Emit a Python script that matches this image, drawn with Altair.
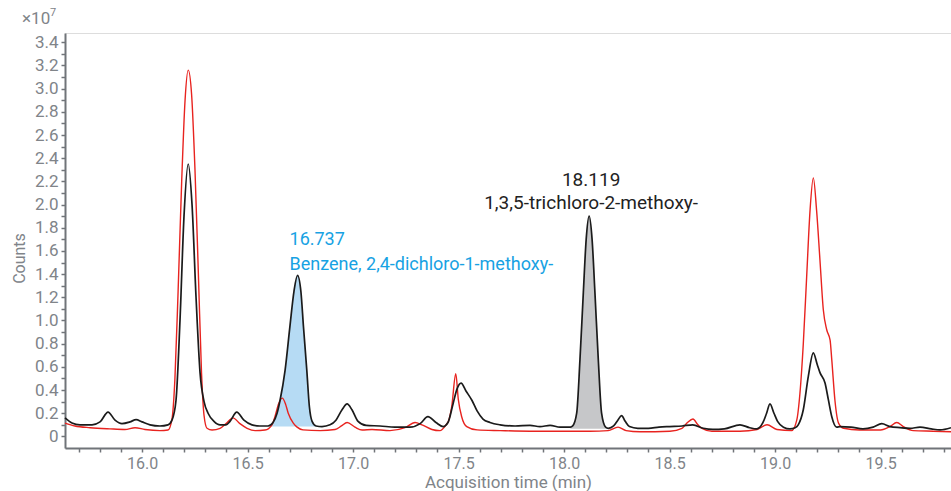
import altair as alt
import pandas as pd

# Total ion chromatograms (counts in units of 1e7)
black_time = [
    15.635, 15.668, 15.706, 15.763, 15.801, 15.839, 15.872, 15.905, 15.943, 15.972,
    16.000, 16.038, 16.085, 16.123, 16.142, 16.161, 16.180, 16.199, 16.219, 16.237,
    16.256, 16.275, 16.294, 16.313, 16.341, 16.370, 16.398, 16.417, 16.449, 16.483,
    16.521, 16.559, 16.597, 16.621, 16.640, 16.654, 16.678, 16.701, 16.720, 16.737,
    16.753, 16.765, 16.781, 16.793, 16.806, 16.825, 16.853, 16.891, 16.919, 16.948,
    16.972, 16.995, 17.024, 17.062, 17.128, 17.199, 17.270, 17.318, 17.355, 17.393,
    17.427, 17.450, 17.474, 17.493, 17.512, 17.536, 17.564, 17.588, 17.616, 17.649,
    17.697, 17.768, 17.839, 17.886, 17.934, 17.981, 18.030, 18.041, 18.060, 18.0755,
    18.0915, 18.105, 18.119, 18.133, 18.1465, 18.1625, 18.178, 18.197, 18.210, 18.235,
    18.255, 18.273, 18.290, 18.310, 18.350, 18.400, 18.450, 18.500, 18.560, 18.610,
    18.660, 18.706, 18.760, 18.834, 18.880, 18.913, 18.943, 18.960, 18.976, 18.995,
    19.012, 19.040, 19.071, 19.095, 19.110, 19.134, 19.158, 19.1815, 19.200, 19.213,
    19.237, 19.253, 19.269, 19.292, 19.308, 19.360, 19.417, 19.465, 19.506, 19.545,
    19.592, 19.640, 19.687, 19.740, 19.782, 19.834,
]
black_counts = [
    0.16, 0.116, 0.10, 0.10, 0.125, 0.21, 0.14, 0.11, 0.125, 0.145,
    0.125, 0.10, 0.09, 0.10, 0.14, 0.31, 1.0, 1.9, 2.35, 2.0,
    1.2, 0.55, 0.30, 0.20, 0.13, 0.10, 0.10, 0.13, 0.21, 0.14,
    0.10, 0.09, 0.09, 0.12, 0.20, 0.31, 0.57, 0.95, 1.25, 1.39,
    1.25, 0.95, 0.57, 0.26, 0.13, 0.09, 0.085, 0.10, 0.14, 0.23,
    0.28, 0.23, 0.13, 0.095, 0.09, 0.08, 0.08, 0.11, 0.17, 0.12,
    0.085, 0.12, 0.28, 0.41, 0.46, 0.39, 0.31, 0.22, 0.15, 0.12,
    0.10, 0.09, 0.095, 0.085, 0.095, 0.08, 0.08, 0.09, 0.20, 0.66,
    1.24, 1.70, 1.90, 1.70, 1.24, 0.66, 0.20, 0.08, 0.07, 0.09,
    0.14, 0.18, 0.13, 0.085, 0.07, 0.07, 0.08, 0.085, 0.09, 0.10,
    0.07, 0.06, 0.065, 0.10, 0.075, 0.065, 0.12, 0.20, 0.28, 0.20,
    0.13, 0.08, 0.065, 0.075, 0.10, 0.23, 0.52, 0.72, 0.62, 0.55,
    0.46, 0.315, 0.17, 0.08, 0.085, 0.08, 0.065, 0.08, 0.11, 0.085,
    0.076, 0.07, 0.08, 0.065, 0.056, 0.075,
]

red_time = [
    15.635, 15.682, 15.754, 15.848, 15.919, 15.967, 16.014, 16.085, 16.123, 16.142,
    16.156, 16.171, 16.188, 16.204, 16.219, 16.235, 16.251, 16.268, 16.282, 16.294,
    16.308, 16.332, 16.370, 16.398, 16.431, 16.464, 16.498, 16.536, 16.583, 16.616,
    16.630, 16.647, 16.665, 16.680, 16.693, 16.717, 16.735, 16.763, 16.844, 16.915,
    16.945, 16.972, 17.009, 17.043, 17.090, 17.175, 17.246, 17.294, 17.327, 17.374,
    17.412, 17.441, 17.452, 17.468, 17.487, 17.499, 17.515, 17.539, 17.588, 17.697,
    17.839, 17.981, 18.123, 18.209, 18.256, 18.294, 18.360, 18.502, 18.559, 18.585,
    18.611, 18.635, 18.654, 18.701, 18.834, 18.915, 18.962, 19.009, 19.079, 19.103,
    19.118, 19.134, 19.150, 19.166, 19.1815, 19.197, 19.213, 19.229, 19.245, 19.261,
    19.269, 19.284, 19.301, 19.325, 19.400, 19.500, 19.545, 19.577, 19.608, 19.655,
    19.750, 19.834,
]
red_counts = [
    0.115, 0.09, 0.075, 0.065, 0.06, 0.075, 0.06, 0.05, 0.055, 0.15,
    0.50, 1.25, 2.20, 2.90, 3.16, 2.95, 2.30, 1.35, 0.55, 0.18,
    0.07, 0.055, 0.07, 0.11, 0.16, 0.11, 0.07, 0.05, 0.055, 0.10,
    0.17, 0.28, 0.33, 0.28, 0.20, 0.115, 0.08, 0.056, 0.05, 0.06,
    0.09, 0.12, 0.08, 0.055, 0.06, 0.05, 0.075, 0.12, 0.10, 0.06,
    0.05, 0.10, 0.13, 0.26, 0.54, 0.32, 0.17, 0.085, 0.056, 0.05,
    0.045, 0.045, 0.045, 0.05, 0.08, 0.05, 0.04, 0.045, 0.07, 0.12,
    0.15, 0.10, 0.07, 0.045, 0.045, 0.06, 0.10, 0.06, 0.05, 0.14,
    0.37, 0.80, 1.38, 1.95, 2.23, 1.95, 1.52, 1.09, 0.92, 0.83,
    0.66, 0.31, 0.115, 0.07, 0.055, 0.055, 0.085, 0.12, 0.085, 0.05,
    0.045, 0.04,
]

# Integrated peaks: retention time, apex height, integration window, baseline
peak_rt = [16.737, 18.119]
peak_apex = [1.39, 1.90]
peak_names = ["Benzene, 2,4-dichloro-1-methoxy-", "1,3,5-trichloro-2-methoxy-"]
peak_start = [16.597, 18.030]
peak_end = [16.825, 18.210]
peak_base = [0.085, 0.065]

x_ticks = [round(15.7 + 0.1 * i, 1) for i in range(42)]
y_ticks = [round(0.1 * i, 1) for i in range(35)]

FONT = "Roboto"
AXIS_GREY = "#707479"
LABEL_GREY = "#808489"
BLUE_TEXT = "#17a2e3"
BLUE_FILL = "#b6dbf4"
GREY_FILL = "#c6c7c9"

black = pd.DataFrame({"t": black_time, "c": black_counts})
red = pd.DataFrame({"t": red_time, "c": red_counts})

x_scale = alt.Scale(domain=[15.635, 19.834], nice=False, zero=False)
y_scale = alt.Scale(domain=[-0.1, 3.48], nice=False, zero=False)

x_axis = alt.Axis(
    title="Acquisition time (min)", values=x_ticks, grid=False, labelOverlap=False,
    labelExpr="abs(datum.value*2 - round(datum.value*2)) < 0.001 ? format(datum.value, '.1f') : ''",
    domainColor=AXIS_GREY, domainWidth=2, tickColor=AXIS_GREY, tickWidth=1.5, tickSize=4,
    labelColor=LABEL_GREY, labelFont=FONT, labelFontSize=16, labelPadding=3,
    titleColor=LABEL_GREY, titleFont=FONT, titleFontSize=17, titleFontWeight="normal",
    titlePadding=3, labelFlush=False,
)
y_axis = alt.Axis(
    title="Counts", values=y_ticks, grid=False, labelOverlap=False,
    labelExpr="datum.value == 0 ? '0' : (round(datum.value*10) % 2 == 0 ? format(datum.value, '.1f') : '')",
    domainColor=AXIS_GREY, domainWidth=2, tickColor=AXIS_GREY, tickWidth=1.5, tickSize=4,
    labelColor=LABEL_GREY, labelFont=FONT, labelFontSize=17, labelPadding=3,
    titleColor=LABEL_GREY, titleFont=FONT, titleFontSize=16, titleFontWeight="normal",
    titleX=-46, titleY=225, titleBaseline="middle", titleAlign="center", titleAngle=-90,
)

X = alt.X("t:Q", scale=x_scale, axis=x_axis)
Y = alt.Y("c:Q", scale=y_scale, axis=y_axis)

fills = []
for i, color in enumerate([BLUE_FILL, GREY_FILL]):
    seg = black[(black.t >= peak_start[i]) & (black.t <= peak_end[i])]
    fills.append(
        alt.Chart(seg).mark_area(color=color, interpolate="monotone", opacity=1).encode(
            x=X, y=Y, y2=alt.datum(peak_base[i]),
        )
    )

red_line = alt.Chart(red).mark_line(color="#e8231f", strokeWidth=1.4, interpolate="monotone").encode(
    x=X, y=Y
)
black_line = alt.Chart(black).mark_line(color="#1b1b1b", strokeWidth=1.7, interpolate="monotone").encode(
    x=X, y=Y
)

peaks = pd.DataFrame({
    "t": peak_rt, "c": peak_apex, "name": peak_names,
    "rt": [f"{v:.3f}" for v in peak_rt],
})

blue_rt = alt.Chart(peaks.iloc[[0]]).mark_text(
    align="left", baseline="middle", dx=-8, dy=-35, font=FONT, fontSize=18, color=BLUE_TEXT
).encode(x=X, y=Y, text="rt:N")
blue_name = alt.Chart(peaks.iloc[[0]]).mark_text(
    align="left", baseline="middle", dx=-8, dy=-10, font=FONT, fontSize=18, color=BLUE_TEXT
).encode(x=X, y=Y, text="name:N")
black_rt = alt.Chart(peaks.iloc[[1]]).mark_text(
    align="center", baseline="middle", dx=2, dy=-36, font=FONT, fontSize=19, color="#222222"
).encode(x=X, y=Y, text="rt:N")
black_name = alt.Chart(peaks.iloc[[1]]).mark_text(
    align="center", baseline="middle", dx=2, dy=-13, font=FONT, fontSize=19, color="#222222"
).encode(x=X, y=Y, text="name:N")

# Axis multiplier "×10^7" above the y axis
mult = alt.Chart(pd.DataFrame({"s": ["×10"]})).mark_text(
    align="left", baseline="middle", font=FONT, fontSize=17, color=LABEL_GREY
).encode(x=alt.value(-43), y=alt.value(-14), text="s:N")
expo = alt.Chart(pd.DataFrame({"s": ["7"]})).mark_text(
    align="left", baseline="middle", font=FONT, fontSize=11, color=LABEL_GREY
).encode(x=alt.value(-15), y=alt.value(-20), text="s:N")

chart = alt.layer(
    *fills, red_line, black_line, blue_rt, blue_name, black_rt, black_name, mult, expo
).properties(
    width=886, height=415,
    padding={"left": 65, "top": 33, "right": 0, "bottom": 43},
    autosize=alt.AutoSizeParams(type="none"),
).configure_view(stroke=None).configure_axis(labelOverlap=False).configure(background="white")

chart.save("out.html", embed_options={"renderer": "svg", "actions": False})
